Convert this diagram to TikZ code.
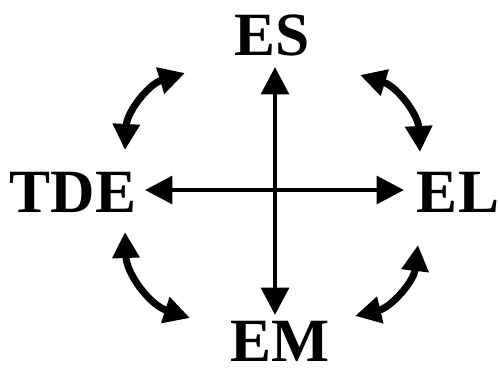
\documentclass[tikz,border=0pt]{standalone}
\usepackage{fontspec}
\setmainfont{Liberation Serif}
\usetikzlibrary{arrows.meta}
\tikzset{
  label/.style={inner sep=0pt, font=\fontsize{35}{35}\selectfont\bfseries},
  bigarrow/.style={{Triangle[length=5.5mm,width=5.5mm]}-{Triangle[length=5.5mm,width=5.5mm]}, line width=2.8pt},
  curvearrow/.style={{Triangle[length=5.2mm,width=5.2mm]}-{Triangle[length=5.2mm,width=5.2mm]}, line width=4pt}
}
\begin{document}
\begin{tikzpicture}[x=0.02cm, y=0.02cm]
\useasboundingbox (0,0) rectangle (498,376);
\node[label] (es) at (272,341) {ES};
\node[label] (tde) at (73,184) {TDE};
\node[label] (el) at (458,184) {EL};
\node[label] (em) at (280,35) {EM};
% cross
\coordinate (top) at (275,309);
\coordinate (bot) at (275,61);
\coordinate (left) at (145,186);
\coordinate (right) at (404,186);
\draw[bigarrow] (top) -- (bot);
\draw[bigarrow] (left) -- (right);
% curved ones
\coordinate (a1) at (185,303);
\coordinate (a2) at (125,226);
\coordinate (b1) at (360,301);
\coordinate (b2) at (420,224);
\coordinate (c1) at (125,144);
\coordinate (c2) at (190,58);
\coordinate (d1) at (418,131);
\coordinate (d2) at (355,60);
\draw[curvearrow] (a1) to[bend right=35] (a2);
\draw[curvearrow] (b1) to[bend left=35] (b2);
\draw[curvearrow] (c1) to[bend right=35] (c2);
\draw[curvearrow] (d1) to[bend left=35] (d2);
\end{tikzpicture}
\end{document}
